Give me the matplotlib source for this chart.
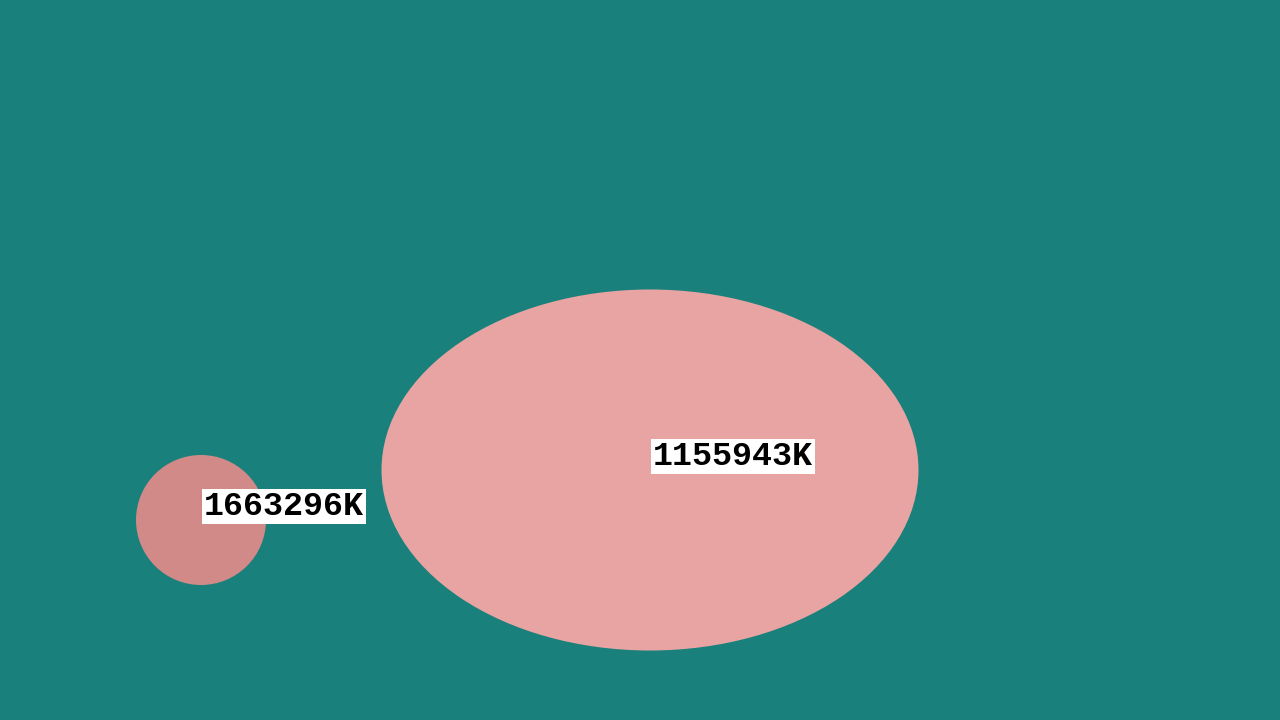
import matplotlib
matplotlib.use("Agg")
import matplotlib.pyplot as plt
from matplotlib.patches import Ellipse

# data
labels = ["1663296K", "1155943K"]
center_x = [201, 650]
center_y = [520, 470]
width_x = [130, 537]
height_y = [130, 361]
fill_colors = ["#d28a88", "#e8a4a2"]
background = "#1a807b"

fig = plt.figure(figsize=(12.8, 7.2), dpi=100)
fig.patch.set_facecolor(background)
ax = fig.add_axes([0, 0, 1, 1])
ax.set_facecolor(background)
ax.set_xlim(0, 1280)
ax.set_ylim(720, 0)
ax.axis("off")

for lab, cx, cy, w, h, c in zip(labels, center_x, center_y, width_x, height_y, fill_colors):
    ax.add_patch(Ellipse((cx, cy), w, h, facecolor=c, edgecolor="none"))
    ax.text(cx + 3, cy + 2, lab, ha="left", va="bottom", fontsize=24,
            family=["Liberation Mono", "DejaVu Sans Mono"], fontweight="bold",
            color="black",
            bbox=dict(boxstyle="square,pad=0.05", facecolor="white", edgecolor="none"))

fig.savefig("out.png", dpi=100, facecolor=background)
